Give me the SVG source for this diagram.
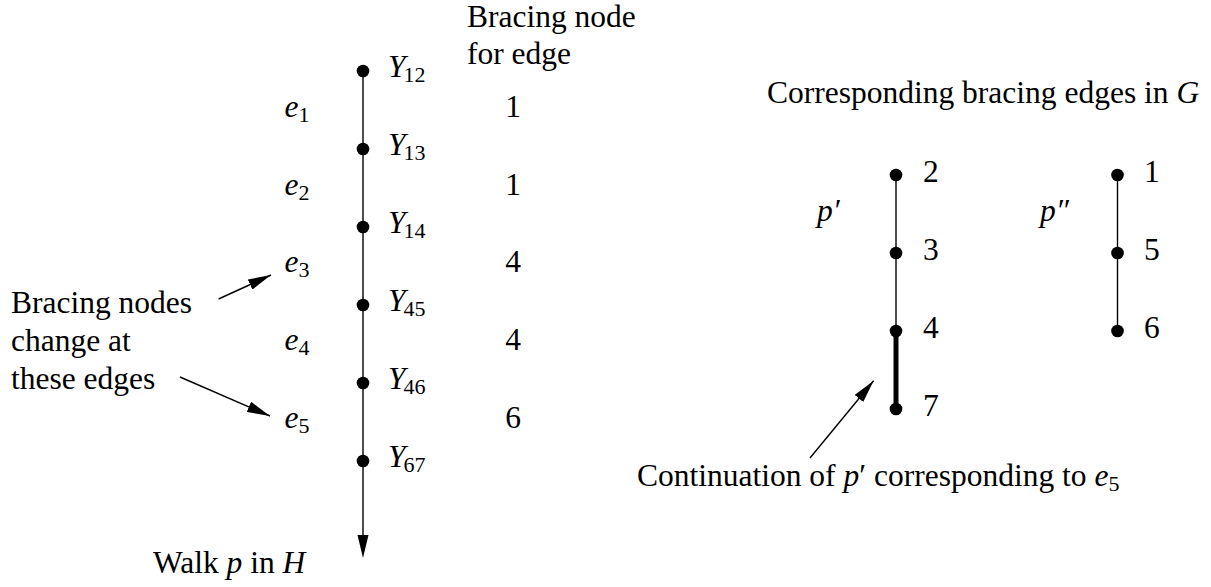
<svg xmlns="http://www.w3.org/2000/svg" width="1211" height="587" viewBox="0 0 1211 587">
<style>
text{font-family:"Liberation Serif","Times New Roman",serif;font-size:31.5px;fill:#000}
.i{font-style:italic}
.sub{font-size:22px;font-style:normal}
.ln{stroke:#000;stroke-width:1.4;fill:none}
.thick{stroke:#000;stroke-width:5;fill:none}
.dot{fill:#000}
</style>
<defs>
<marker id="ah" viewBox="0 0 23 11" refX="23" refY="5.5" markerWidth="23" markerHeight="11" markerUnits="userSpaceOnUse" orient="auto">
<path d="M0,0 L23,5.5 L0,11 z" fill="#000"/>
</marker>
</defs>

<g id="connectors">
<line class="ln" x1="363" y1="71" x2="363" y2="536"/>
<polygon points="363,558 357.5,535 368.5,535" fill="#000"/>
<line class="ln" x1="218.6" y1="299" x2="271" y2="275" marker-end="url(#ah)"/>
<line class="ln" x1="180" y1="377" x2="270" y2="416" marker-end="url(#ah)"/>
<line class="ln" x1="896" y1="175" x2="896" y2="331"/>
<line class="thick" x1="896" y1="331" x2="896" y2="409"/>
<line class="ln" x1="1117.5" y1="175" x2="1117.5" y2="331"/>
<line class="ln" x1="810" y1="458" x2="873.6" y2="380.7" marker-end="url(#ah)"/>
</g>

<g id="walk-labels">
<text x="467" y="27">Bracing node</text>
<text x="467" y="64">for edge</text>
<text x="153" y="573">Walk <tspan class="i">p</tspan> in <tspan class="i">H</tspan></text>
<text x="11" y="313">Bracing nodes</text>
<text x="11" y="351">change at</text>
<text x="11" y="389">these edges</text>
</g>

<g id="node-Y12"><circle class="dot" cx="363" cy="71" r="6.3"/><text x="388" y="77" class="i">Y<tspan class="sub" dx="-2" dy="5">12</tspan></text></g>
<g id="node-Y13"><circle class="dot" cx="363" cy="149" r="6.3"/><text x="388" y="155" class="i">Y<tspan class="sub" dx="-2" dy="5">13</tspan></text></g>
<g id="node-Y14"><circle class="dot" cx="363" cy="227" r="6.3"/><text x="388" y="233" class="i">Y<tspan class="sub" dx="-2" dy="5">14</tspan></text></g>
<g id="node-Y45"><circle class="dot" cx="363" cy="305" r="6.3"/><text x="388" y="311" class="i">Y<tspan class="sub" dx="-2" dy="5">45</tspan></text></g>
<g id="node-Y46"><circle class="dot" cx="363" cy="383" r="6.3"/><text x="388" y="389" class="i">Y<tspan class="sub" dx="-2" dy="5">46</tspan></text></g>
<g id="node-Y67"><circle class="dot" cx="363" cy="461" r="6.3"/><text x="388" y="467" class="i">Y<tspan class="sub" dx="-2" dy="5">67</tspan></text></g>

<g id="edge-labels">
<text x="284.6" y="117" class="i">e<tspan class="sub" dy="5">1</tspan></text>
<text x="284.6" y="195" class="i">e<tspan class="sub" dy="5">2</tspan></text>
<text x="284.6" y="272" class="i">e<tspan class="sub" dy="5">3</tspan></text>
<text x="284.6" y="350" class="i">e<tspan class="sub" dy="5">4</tspan></text>
<text x="284.6" y="428" class="i">e<tspan class="sub" dy="5">5</tspan></text>
<text x="513" y="117" text-anchor="middle">1</text>
<text x="513" y="195" text-anchor="middle">1</text>
<text x="513" y="272" text-anchor="middle">4</text>
<text x="513" y="350" text-anchor="middle">4</text>
<text x="513" y="428" text-anchor="middle">6</text>
</g>

<g id="g-labels">
<text x="767" y="103">Corresponding bracing edges in <tspan class="i">G</tspan></text>
<text x="817" y="221" class="i">p′</text>
<text x="1040" y="221" class="i">p″</text>
<text x="637" y="486">Continuation of <tspan class="i">p</tspan>′ corresponding to <tspan class="i">e</tspan><tspan class="sub" dy="5">5</tspan></text>
</g>

<g id="node-2"><circle class="dot" cx="896" cy="175" r="6.3"/><text x="923" y="182">2</text></g>
<g id="node-3"><circle class="dot" cx="896" cy="253" r="6.3"/><text x="923" y="260">3</text></g>
<g id="node-4"><circle class="dot" cx="896" cy="331" r="6.3"/><text x="923" y="338">4</text></g>
<g id="node-7"><circle class="dot" cx="896" cy="409" r="6.3"/><text x="923" y="416">7</text></g>
<g id="node-1"><circle class="dot" cx="1117.5" cy="175" r="6.3"/><text x="1144" y="182">1</text></g>
<g id="node-5"><circle class="dot" cx="1117.5" cy="253" r="6.3"/><text x="1144" y="260">5</text></g>
<g id="node-6"><circle class="dot" cx="1117.5" cy="331" r="6.3"/><text x="1144" y="338">6</text></g>
</svg>
